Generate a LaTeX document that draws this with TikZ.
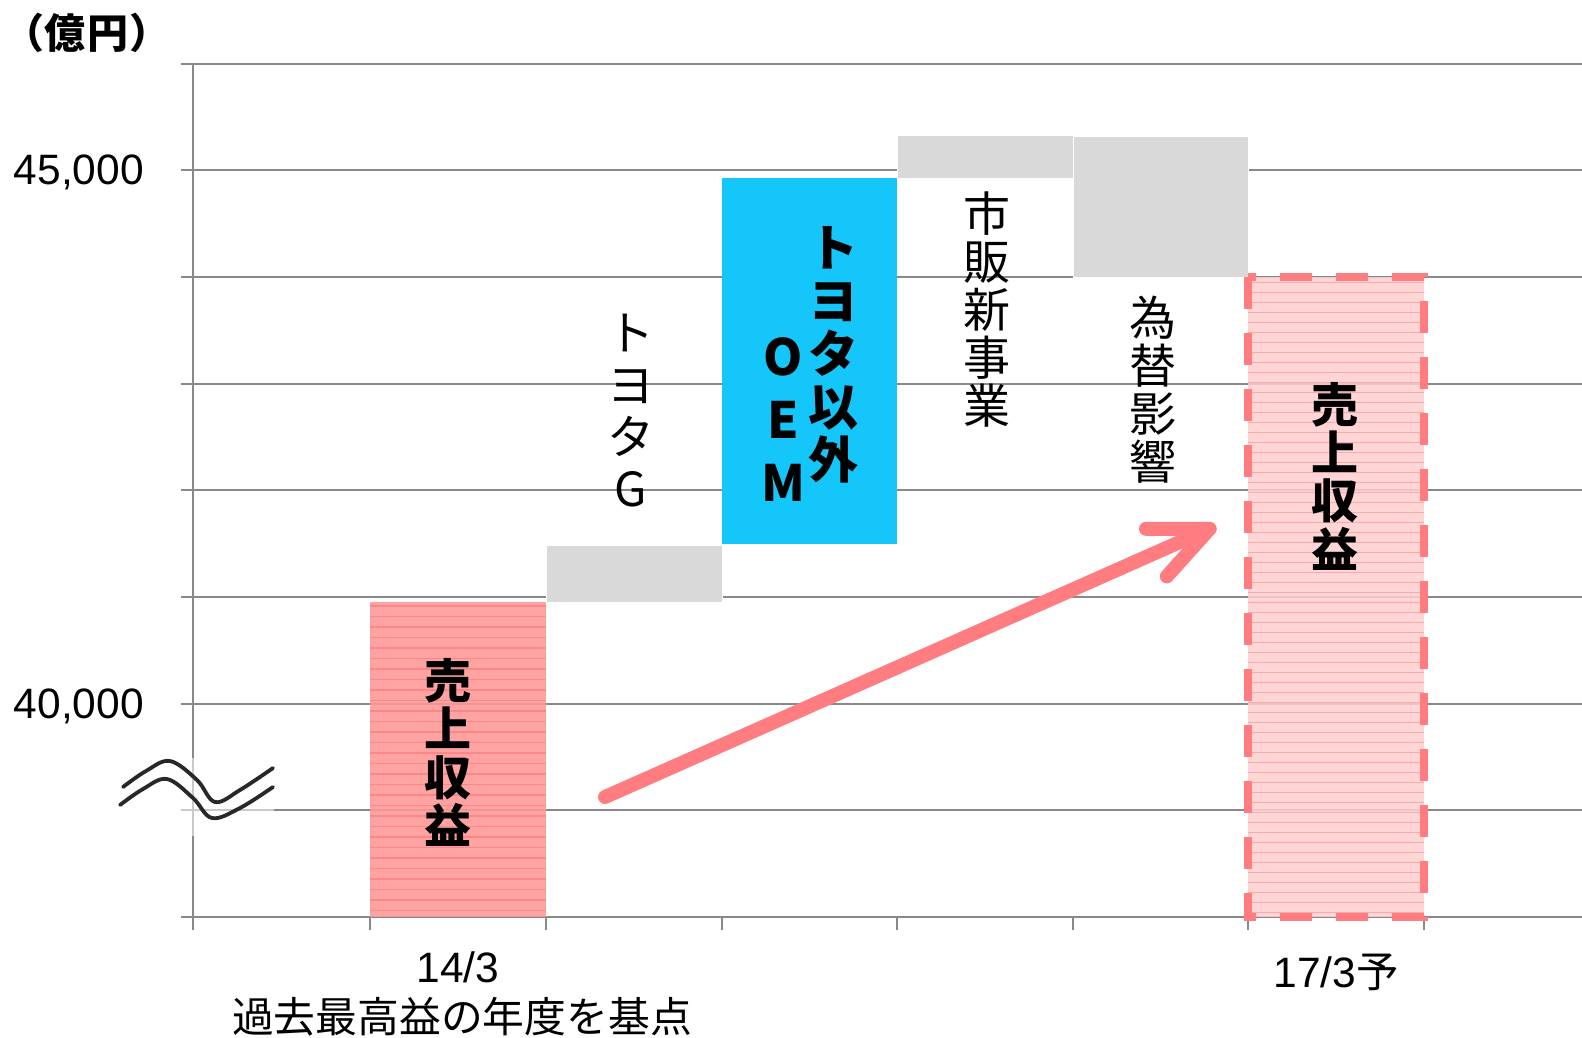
\documentclass[tikz,border=0pt]{standalone}
\usepackage{fontspec}
\setmainfont{Liberation Sans}
\newfontfamily\jp{Noto Sans CJK JP}
\definecolor{gridc}{RGB}{137,137,137}
\definecolor{barblue}{RGB}{20,198,250}
\definecolor{bargray}{RGB}{217,217,217}
\definecolor{pinkA}{RGB}{255,150,150}
\definecolor{pinkAline}{RGB}{250,126,126}
\definecolor{pinkB}{RGB}{255,206,206}
\definecolor{pinkBline}{RGB}{248,160,160}
\definecolor{arrowc}{RGB}{255,124,128}
\definecolor{wavec}{RGB}{40,40,40}
\begin{document}
\begin{tikzpicture}[x=1pt,y=-1pt,
  gridline/.style={draw=gridc, line width=2},
  graybar/.style={fill=bargray, draw=white, line width=1},
  vlab/.style={inner sep=0, align=center},
  jpreg/.style={font=\jp\fontsize{47}{48}\selectfont},
  jpbold/.style={font=\jp\bfseries\fontsize{47}{48.3}\selectfont},
  numlab/.style={inner sep=0, font=\fontsize{42.5}{45}\selectfont},
  arrowline/.style={draw=arrowc, line width=14, line cap=round, line join=round},
  wave/.style={draw=wavec, line width=3.8, line cap=round}]
\useasboundingbox (0,0) rectangle (1582,1037);
\fill[white] (0,0) rectangle (1582,1037);

% grid
\foreach \k in {0,...,8}
  \draw[gridline] (181,63.5+106.7*\k) -- (1582,63.5+106.7*\k);
\draw[gridline] (193,63.5) -- (193,930);
\foreach \x in {370,546,722,897,1073,1248,1424}
  \draw[gridline] (\x,917) -- (\x,930);

% bar 1 (pink, textured)
\begin{scope}
  \clip (370,602) rectangle (546,917);
  \fill[pinkA, fill opacity=0.88] (370,602) rectangle (546,917);
  \foreach \y in {606,616.5,...,917}
    \draw[pinkAline, line width=1.3, opacity=0.7] (370,\y) -- (546,\y);
\end{scope}

% gray step bars
\fill[graybar] (546,545) rectangle (722,602);
\fill[barblue] (722,178) rectangle (897,544);
\filldraw[graybar] (897,135) rectangle (1073,178);
\filldraw[graybar] (1073,136) rectangle (1248,277);

% bar 6 (light pink, dashed)
\begin{scope}
  \clip (1248,277) rectangle (1424,917);
  \fill[pinkB, fill opacity=0.85] (1248,277) rectangle (1424,917);
  \foreach \y in {282,292,...,917}
    \draw[pinkBline, line width=1, opacity=0.8] (1248,\y) -- (1424,\y);
\end{scope}
\draw[arrowc, line width=8, dash pattern=on 32pt off 24pt, dash phase=24pt]
  (1248,277) -- (1424,277) -- (1424,917) -- (1248,917) -- cycle;

% axis break symbol
\fill[white, opacity=0.55] (178,758) rectangle (274,836);
\draw[wave] plot[smooth, tension=0.6] coordinates {(123,787) (146,771) (170,761) (197,780) (215,802) (240,790) (273,768)};
\draw[wave] plot[smooth, tension=0.6] coordinates {(120,805) (143,789) (167,779) (193,798) (212,818) (240,808) (273,787)};

% arrow
\coordinate (arrS) at (605,797);
\coordinate (arrT) at (1209.6,528.8);
\coordinate (arrU) at (1146,528.8);
\coordinate (arrD) at (1166.8,576.4);
\draw[arrowline] (arrS) -- (arrT);
\draw[arrowline] (arrU) -- (arrT) -- (arrD);

% labels
\node[inner sep=0, font=\jp\bfseries\fontsize{41}{44}\selectfont] (unit) at (87,33) {（\kern1pt 億\kern2pt 円\kern1pt ）};
\node[numlab, anchor=base east] (y45) at (144,184) {45,000};
\node[numlab, anchor=base east] (y40) at (144,718) {40,000};
\node[numlab, anchor=base] (x1) at (458,982) {14/3};
\node[inner sep=0, font=\jp\fontsize{41.8}{44}\selectfont] (x1b) at (462,1016.5) {過去最高益の年度を基点};
\node[numlab, anchor=base] (x6) at (1336,987) {17/3{\jp 予}};

\node[vlab, jpbold] (lab1) at (448,752.5) {売\\上\\収\\益};
\node[vlab, font=\jp\fontsize{47}{52}\selectfont] (lab2) at (631,411) {ト\\ヨ\\タ\\G};
\node[vlab, font=\jp\bfseries\fontsize{50}{53}\selectfont] (lab3a) at (833,355) {ト\\ヨ\\タ\\以\\外};
\node[vlab, font=\jp\bfseries\fontsize{50}{63}\selectfont] (lab3b) at (783,419.5) {O\\E\\M};
\node[vlab, jpreg] (lab4) at (987,309.5) {市\\販\\新\\事\\業};
\node[vlab, jpreg] (lab5) at (1153,390) {為\\替\\影\\響};
\node[vlab, jpbold] (lab6) at (1335,476) {売\\上\\収\\益};
\end{tikzpicture}
\end{document}
